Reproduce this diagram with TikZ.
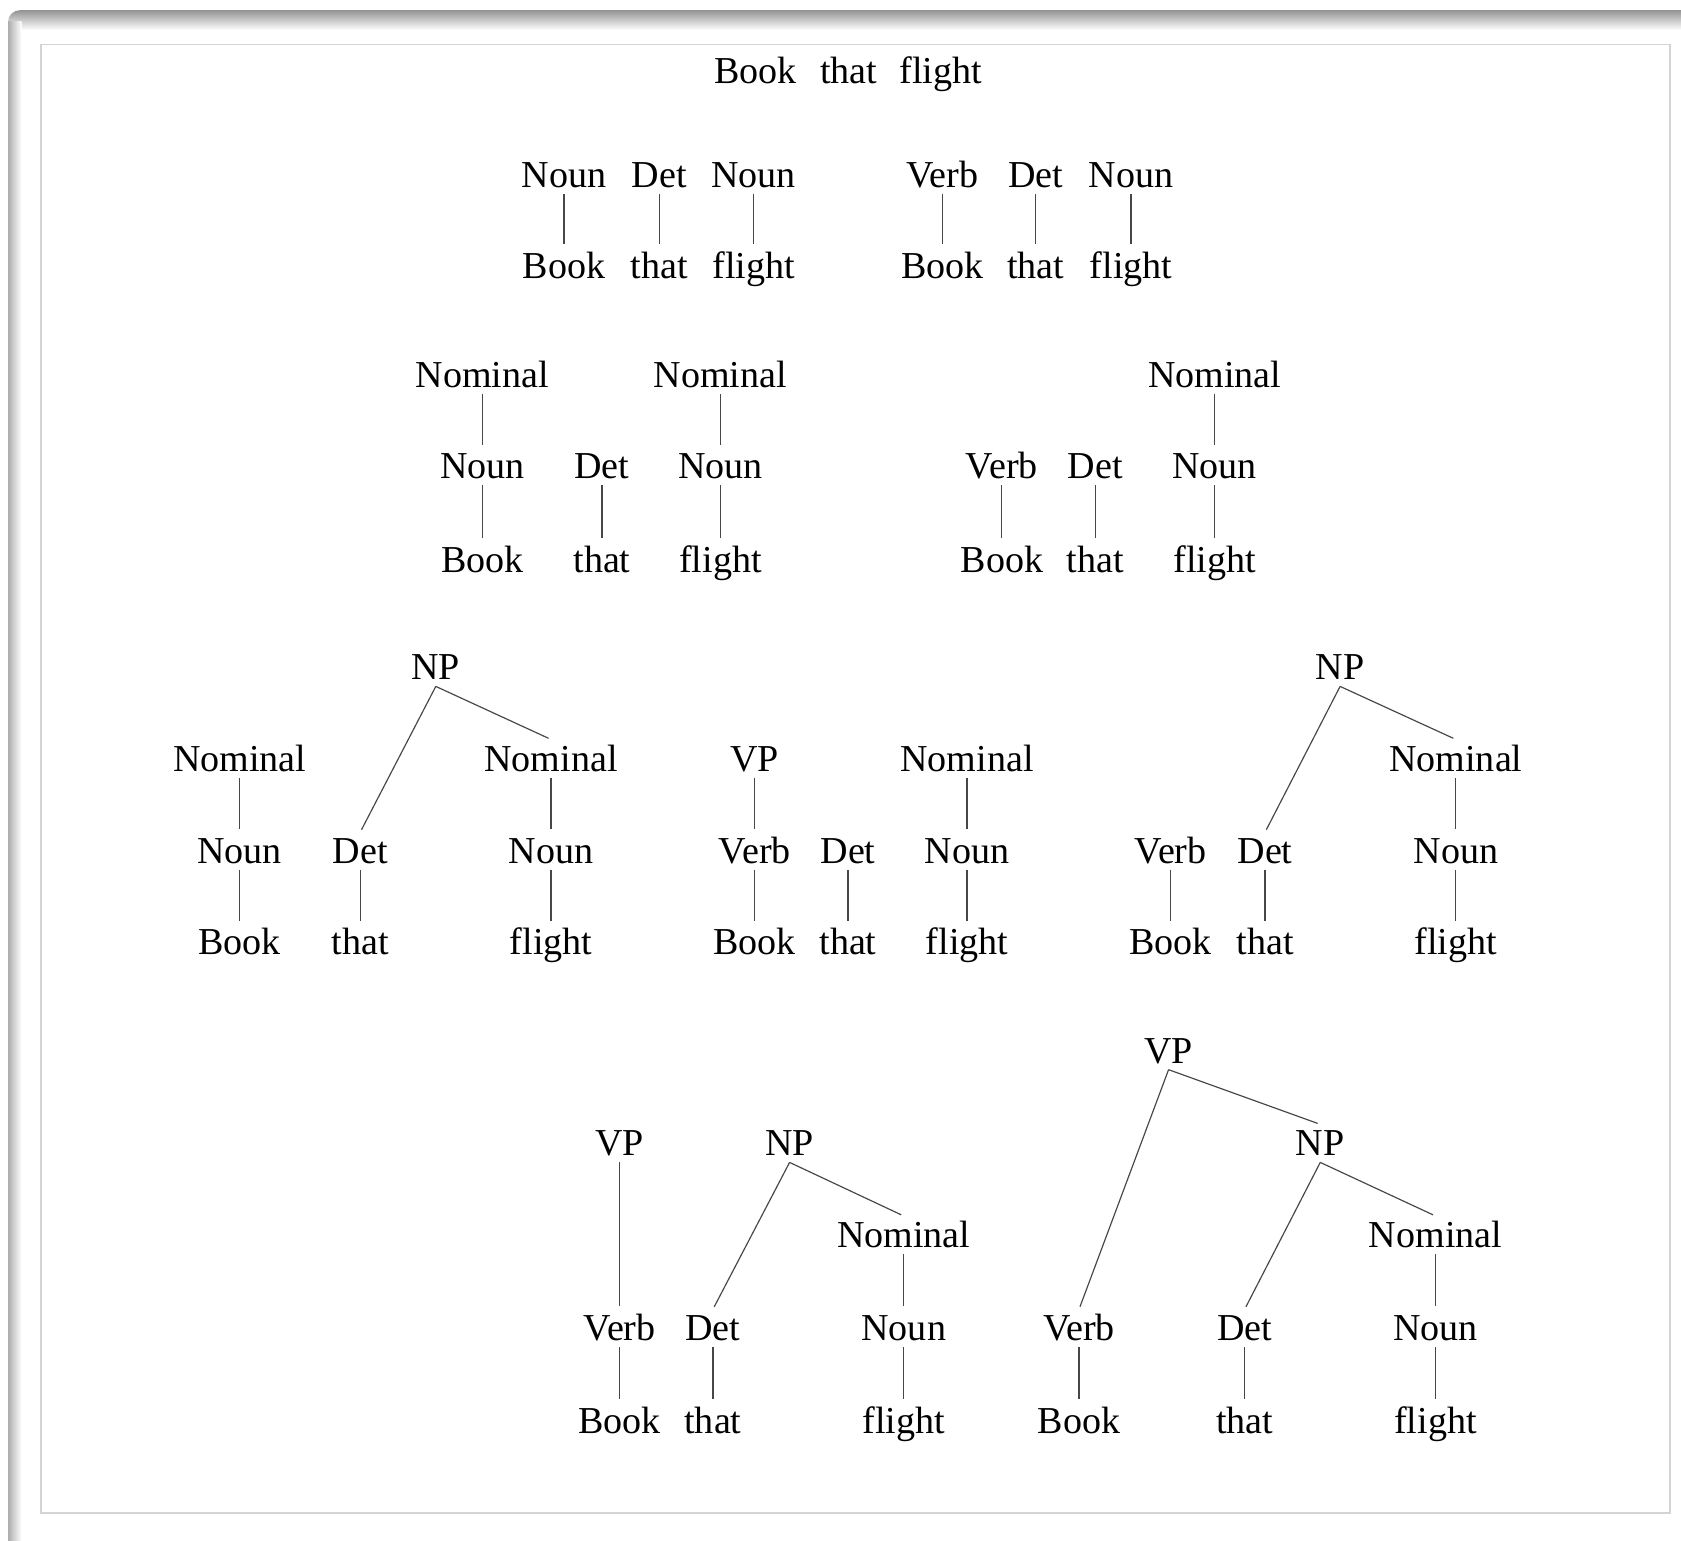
\documentclass[tikz,border=0pt]{standalone}
\usepackage{fontspec}
\setmainfont{Liberation Serif}
\begin{document}
\begin{tikzpicture}[x=1pt,y=-1pt,
  tn/.style={font=\fontsize{35.5}{40}\selectfont, text height=23.5pt, text depth=0pt, inner xsep=0pt, inner ysep=5.8pt},
  ln/.style={draw=black!72, line width=1.1pt, shorten >=2.6pt}]
\useasboundingbox (0,0) rectangle (1568,1437);
\fill[white] (0,0) rectangle (1568,1437);
% window frame with shadow
\begin{scope}
\clip[rounded corners=11pt] (7.5,9.5) rectangle (1620,1480);
\shade[top color=black!42, bottom color=white] (7.5,9.5) rectangle (1620,28);
\shade[left color=black!32, right color=white] (7.5,20) rectangle (20,1480);
\end{scope}
\draw[black!17, line width=1.5pt] (38.5,41.5) rectangle (1557.5,1411.5);

% Row 0
\node[tn] (r0a) at (704.5,65.8) {Book};
\node[tn] (r0b) at (791.5,65.8) {that};
\node[tn] (r0c) at (877.5,65.8) {flight};

% Row 1, tree a
\node[tn] (an1) at (526,163.3) {Noun};
\node[tn] (ad1) at (615,163.3) {Det};
\node[tn] (am1) at (703,163.3) {Noun};
\node[tn] (ab1) at (526,248) {Book};
\node[tn] (at1) at (615,248) {that};
\node[tn] (af1) at (703,248) {flight};
\draw[ln] (an1.south) -- (ab1.north);
\draw[ln] (ad1.south) -- (at1.north);
\draw[ln] (am1.south) -- (af1.north);
% Row 1, tree b
\node[tn] (bv1) at (879,163.3) {Verb};
\node[tn] (bd1) at (966,163.3) {Det};
\node[tn] (bm1) at (1055,163.3) {Noun};
\node[tn] (bb1) at (879,248) {Book};
\node[tn] (bt1) at (966,248) {that};
\node[tn] (bf1) at (1055,248) {flight};
\draw[ln] (bv1.south) -- (bb1.north);
\draw[ln] (bd1.south) -- (bt1.north);
\draw[ln] (bm1.south) -- (bf1.north);

% Row 2, tree a
\node[tn] (cN1) at (450,350) {Nominal};
\node[tn] (cN2) at (672,350) {Nominal};
\node[tn] (cn1) at (450,435) {Noun};
\node[tn] (cd1) at (561.5,435) {Det};
\node[tn] (cn2) at (672,435) {Noun};
\node[tn] (cb) at (450,522) {Book};
\node[tn] (ct) at (561.5,522) {that};
\node[tn] (cf) at (672,522) {flight};
\draw[ln] (cN1.south) -- (cn1.north);
\draw[ln] (cN2.south) -- (cn2.north);
\draw[ln] (cn1.south) -- (cb.north);
\draw[ln] (cd1.south) -- (ct.north);
\draw[ln] (cn2.south) -- (cf.north);
% Row 2, tree b
\node[tn] (dN) at (1133,350) {Nominal};
\node[tn] (dv) at (934.5,435) {Verb};
\node[tn] (dd) at (1021.5,435) {Det};
\node[tn] (dn) at (1133,435) {Noun};
\node[tn] (db) at (934.5,522) {Book};
\node[tn] (dt) at (1021.5,522) {that};
\node[tn] (df) at (1133,522) {flight};
\draw[ln] (dN.south) -- (dn.north);
\draw[ln] (dv.south) -- (db.north);
\draw[ln] (dd.south) -- (dt.north);
\draw[ln] (dn.south) -- (df.north);

% Row 3, tree a
\node[tn] (eNP) at (406.5,622.5) {NP};
\node[tn] (eN1) at (223.5,707.5) {Nominal};
\node[tn] (eN2) at (514,707.5) {Nominal};
\node[tn] (en1) at (223.5,794) {Noun};
\node[tn] (ed) at (336,794) {Det};
\node[tn] (en2) at (514,794) {Noun};
\node[tn] (eb) at (223.5,879) {Book};
\node[tn] (et) at (336,879) {that};
\node[tn] (ef) at (514,879) {flight};
\draw[ln] (eNP.south) -- (ed.north);
\draw[ln] (eNP.south) -- (eN2.north);
\draw[ln] (eN1.south) -- (en1.north);
\draw[ln] (eN2.south) -- (en2.north);
\draw[ln] (en1.south) -- (eb.north);
\draw[ln] (ed.south) -- (et.north);
\draw[ln] (en2.south) -- (ef.north);
% Row 3, tree b
\node[tn] (fVP) at (704,707.5) {VP};
\node[tn] (fN) at (902,707.5) {Nominal};
\node[tn] (fv) at (704,794) {Verb};
\node[tn] (fd) at (791,794) {Det};
\node[tn] (fn) at (902,794) {Noun};
\node[tn] (fb) at (704,879) {Book};
\node[tn] (ft) at (791,879) {that};
\node[tn] (ff) at (902,879) {flight};
\draw[ln] (fVP.south) -- (fv.north);
\draw[ln] (fN.south) -- (fn.north);
\draw[ln] (fv.south) -- (fb.north);
\draw[ln] (fd.south) -- (ft.north);
\draw[ln] (fn.south) -- (ff.north);
% Row 3, tree c
\node[tn] (gNP) at (1250,622.5) {NP};
\node[tn] (gN) at (1358,707.5) {Nominal};
\node[tn] (gv) at (1092,794) {Verb};
\node[tn] (gd) at (1180,794) {Det};
\node[tn] (gn) at (1358,794) {Noun};
\node[tn] (gb) at (1092,879) {Book};
\node[tn] (gt) at (1180,879) {that};
\node[tn] (gf) at (1358,879) {flight};
\draw[ln] (gNP.south) -- (gd.north);
\draw[ln] (gNP.south) -- (gN.north);
\draw[ln] (gN.south) -- (gn.north);
\draw[ln] (gv.south) -- (gb.north);
\draw[ln] (gd.south) -- (gt.north);
\draw[ln] (gn.south) -- (gf.north);

% Row 4, tree a
\node[tn] (hVP) at (578,1066.5) {VP};
\node[tn] (hNP) at (736.5,1066.5) {NP};
\node[tn] (hN) at (843,1152) {Nominal};
\node[tn] (hv) at (578,1239) {Verb};
\node[tn] (hd) at (665,1239) {Det};
\node[tn] (hn) at (843,1239) {Noun};
\node[tn] (hb) at (578,1325.5) {Book};
\node[tn] (ht) at (665,1325.5) {that};
\node[tn] (hf) at (843,1325.5) {flight};
\draw[ln] (hVP.south) -- (hv.north);
\draw[ln] (hNP.south) -- (hd.north);
\draw[ln] (hNP.south) -- (hN.north);
\draw[ln] (hN.south) -- (hn.north);
\draw[ln] (hv.south) -- (hb.north);
\draw[ln] (hd.south) -- (ht.north);
\draw[ln] (hn.south) -- (hf.north);
% Row 4, tree b
\node[tn] (kVP) at (1090,980) {VP};
\node[tn] (kNP) at (1231.5,1066.5) {NP};
\node[tn] (kN) at (1339,1152) {Nominal};
\node[tn] (kv) at (1006.5,1239) {Verb};
\node[tn] (kd) at (1161,1239) {Det};
\node[tn] (kn) at (1339,1239) {Noun};
\node[tn] (kb) at (1006.5,1325.5) {Book};
\node[tn] (kt) at (1161,1325.5) {that};
\node[tn] (kf) at (1339,1325.5) {flight};
\draw[ln] (kVP.south) -- (kv.north);
\draw[ln] (kVP.south) -- (kNP.north);
\draw[ln] (kNP.south) -- (kd.north);
\draw[ln] (kNP.south) -- (kN.north);
\draw[ln] (kN.south) -- (kn.north);
\draw[ln] (kv.south) -- (kb.north);
\draw[ln] (kd.south) -- (kt.north);
\draw[ln] (kn.south) -- (kf.north);
\end{tikzpicture}
\end{document}
